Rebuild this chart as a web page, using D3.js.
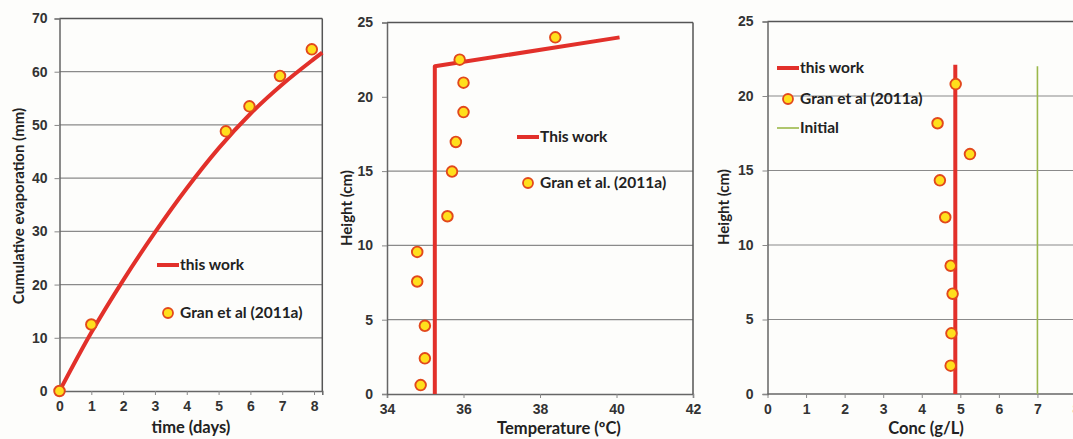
<!DOCTYPE html>
<html>
<head>
<meta charset="utf-8">
<script src="https://cdn.jsdelivr.net/npm/d3@7"></script>
<style>
  body { margin: 0; background: #fdfdfb; }
  svg { display: block; font-family: Lato, "Open Sans", sans-serif; }
  .tick text { font-size: 14px; font-weight: bold; fill: #333; }
  .axis-title { font-size: 16.5px; font-weight: bold; fill: #222; }
  .ylab { font-size: 15px; font-weight: bold; fill: #222; }
  .legend text { font-size: 15.5px; fill: #222; font-weight: bold; }
</style>
</head>
<body>
<svg id="chart"></svg>
<script>
var svgWidth = 1073;
var svgHeight = 439;

// panel 1 : cumulative evaporation vs time
var evapModelDays = [0, 1, 2, 3, 4, 5, 6, 7, 8, 8.26];
var evapModelMm = [0, 11, 20.8, 29.8, 38.1, 45.6, 52.1, 57.6, 62.4, 63.6];
var evapObsDays = [0, 1, 5.23, 5.97, 6.93, 7.93];
var evapObsMm = [0, 12.5, 48.8, 53.5, 59.2, 64.2];

// panel 2 : temperature profile
var tempModelC = [35.25, 35.25, 40.08];
var tempModelH = [0, 22.05, 24.0];
var tempObsC = [38.4, 35.9, 36.0, 36.0, 35.8, 35.7, 35.58, 34.79, 34.79, 34.99, 34.99, 34.88];
var tempObsH = [24.0, 22.5, 20.95, 18.97, 16.96, 14.97, 11.96, 9.56, 7.57, 4.59, 2.4, 0.6];

// panel 3 : concentration profile
var concModel = [4.87, 4.87];
var concModelH = [0, 22.1];
var concInitial = [7, 7];
var concInitialH = [0, 22];
var concObs = [4.88, 4.41, 5.25, 4.47, 4.61, 4.75, 4.8, 4.77, 4.75];
var concObsH = [20.8, 18.17, 16.1, 14.34, 11.86, 8.61, 6.73, 4.07, 1.9];

var xTicks1 = [0, 1, 2, 3, 4, 5, 6, 7, 8];
var yTicks1 = [0, 10, 20, 30, 40, 50, 60, 70];
var xTicks2 = [34, 36, 38, 40, 42];
var yTicks2 = [0, 5, 10, 15, 20, 25];
var xTicks3 = [0, 1, 2, 3, 4, 5, 6, 7, 8];
var yTicks3 = [0, 5, 10, 15, 20, 25];

var RED = "#e2302a";
var GREEN = "#9bb84a";

var svg = d3.select("#chart")
  .attr("width", svgWidth)
  .attr("height", svgHeight);

svg.append("rect").attr("width", svgWidth).attr("height", svgHeight).attr("fill", "#fdfdfb");

function zip(a, b) {
  return a.map((v, i) => [v, b[i]]);
}

function drawPanel(p) {
  var x = d3.scaleLinear().domain(p.xDomain).range(p.xRange);
  var y = d3.scaleLinear().domain(p.yDomain).range(p.yRange);
  var g = svg.append("g");

  // gridlines
  g.selectAll(".grid")
    .data(p.grid)
    .enter()
    .append("line")
    .attr("x1", p.xRange[0])
    .attr("x2", p.gridEnd || p.xRange[1])
    .attr("y1", d => y(d))
    .attr("y2", d => y(d))
    .attr("stroke", "#8a8a8a")
    .attr("stroke-width", 1.2);

  // frame top / right
  g.append("line")
    .attr("x1", p.xRange[0]).attr("x2", p.gridEnd || p.xRange[1])
    .attr("y1", p.yRange[1]).attr("y2", p.yRange[1])
    .attr("stroke", "#555").attr("stroke-width", 1.5);
  if (p.rightFrame) {
    g.append("line")
      .attr("x1", p.xRange[1]).attr("x2", p.xRange[1])
      .attr("y1", p.yRange[1]).attr("y2", p.yRange[0])
      .attr("stroke", "#555").attr("stroke-width", 1.5);
  }

  var xAxis = g.append("g")
    .attr("transform", `translate(0, ${p.yRange[0]})`)
    .call(d3.axisBottom(x).tickValues(p.xTicks).tickSize(4).tickPadding(6).tickFormat(d3.format("d")));
  var yAxis = g.append("g")
    .attr("transform", `translate(${p.xRange[0]}, 0)`)
    .call(d3.axisLeft(y).tickValues(p.yTicks).tickSize(5).tickPadding(p.yPad).tickFormat(d3.format("d")));
  [xAxis, yAxis].forEach(function(a) {
    a.select(".domain").attr("stroke", "#666").attr("stroke-width", 1.5);
    a.selectAll(".tick line").attr("stroke", "#888");
  });
  if (p.gridEnd) {
    xAxis.select(".domain").attr("d", `M${p.xRange[0]},0H${p.gridEnd}`);
  }

  p.lines.forEach(function(l) {
    g.append("path")
      .datum(l.data)
      .attr("fill", "none")
      .attr("stroke", l.color)
      .attr("stroke-width", l.width)
      .attr("stroke-linejoin", "round")
      .attr("d", d3.line().x(d => x(d[0])).y(d => y(d[1])).curve(l.curve || d3.curveLinear));
  });

  g.selectAll(".pt")
    .data(p.points)
    .enter()
    .append("circle")
    .attr("cx", d => x(d[0]))
    .attr("cy", d => y(d[1]))
    .attr("r", 5.3)
    .attr("fill", "#ffdf1c")
    .attr("stroke", "#e2481c")
    .attr("stroke-width", 1.9);

  // axis titles
  g.append("text")
    .attr("class", "axis-title")
    .attr("x", p.xTitle[0]).attr("y", p.xTitle[1])
    .attr("text-anchor", "middle")
    .text(p.xLabel);
  g.append("text")
    .attr("class", "ylab")
    .attr("transform", `translate(${p.yTitle[0]}, ${p.yTitle[1]}) rotate(-90)`)
    .attr("text-anchor", "middle")
    .text(p.yLabel);

  // legend
  var lg = g.append("g").attr("class", "legend");
  p.legend.forEach(function(item) {
    if (item.type === "line") {
      lg.append("line")
        .attr("x1", item.x).attr("x2", item.x + 22)
        .attr("y1", item.y).attr("y2", item.y)
        .attr("stroke", item.color).attr("stroke-width", item.width);
    } else {
      lg.append("circle")
        .attr("cx", item.x + 11).attr("cy", item.y)
        .attr("r", 5)
        .attr("fill", "#ffdf1c").attr("stroke", "#e2481c").attr("stroke-width", 1.8);
    }
    lg.append("text")
      .attr("x", item.x + 23).attr("y", item.y + 5)
      .text(item.label);
  });
}

drawPanel({
  xDomain: [0, 8.26], xRange: [59.5, 322.3],
  yDomain: [0, 70], yRange: [391, 18.5],
  xTicks: xTicks1, yTicks: yTicks1, grid: [10, 20, 30, 40, 50, 60],
  rightFrame: true, yPad: 7,
  lines: [{ data: zip(evapModelDays, evapModelMm), color: RED, width: 4, curve: d3.curveMonotoneX }],
  points: zip(evapObsDays, evapObsMm),
  xLabel: "time (days)", xTitle: [191, 433],
  yLabel: "Cumulative evaporation (mm)", yTitle: [24, 206],
  legend: [
    { type: "line", x: 157, y: 265, color: RED, width: 4, label: "this work" },
    { type: "point", x: 157, y: 313, label: "Gran et al (2011a)" }
  ]
});

drawPanel({
  xDomain: [34, 42], xRange: [387, 693],
  yDomain: [0, 25], yRange: [394, 22.5],
  xTicks: xTicks2, yTicks: yTicks2, grid: [5, 10, 15],
  rightFrame: true, yPad: 9,
  lines: [{ data: zip(tempModelC, tempModelH), color: RED, width: 4 }],
  points: zip(tempObsC, tempObsH),
  xLabel: "Temperature (ºC)", xTitle: [559, 434],
  yLabel: "Height (cm)", yTitle: [352, 208],
  legend: [
    { type: "line", x: 517, y: 137, color: RED, width: 4, label: "This work" },
    { type: "point", x: 517, y: 183, label: "Gran et al. (2011a)" }
  ]
});

drawPanel({
  xDomain: [0, 8], xRange: [767.5, 1076],
  yDomain: [0, 25], yRange: [394, 21.5],
  xTicks: xTicks3, yTicks: yTicks3, grid: [5, 10, 15, 20],
  rightFrame: false, yPad: 9, gridEnd: 1073,
  lines: [
    { data: zip(concModel, concModelH), color: RED, width: 4 },
    { data: zip(concInitial, concInitialH), color: GREEN, width: 1.6 }
  ],
  points: zip(concObs, concObsH),
  xLabel: "Conc (g/L)", xTitle: [926, 434],
  yLabel: "Height (cm)", yTitle: [729, 207],
  legend: [
    { type: "line", x: 777, y: 68, color: RED, width: 4, label: "this work" },
    { type: "point", x: 777, y: 99, label: "Gran et al (2011a)" },
    { type: "line", x: 777, y: 128, color: GREEN, width: 1.6, label: "Initial" }
  ]
});
</script>
</body>
</html>
